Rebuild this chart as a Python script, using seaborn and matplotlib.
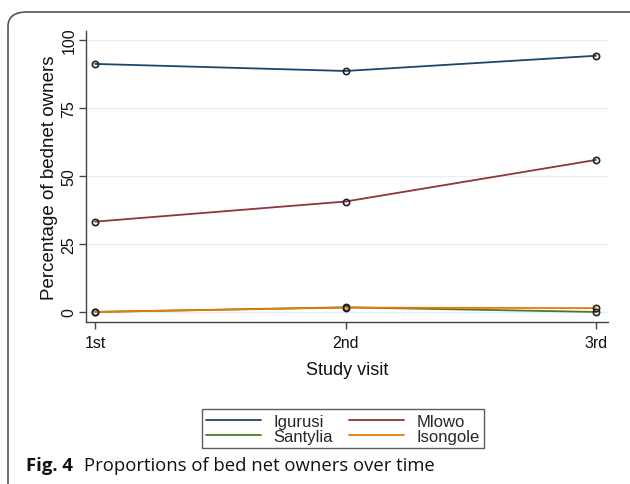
import matplotlib
matplotlib.use("Agg")
import matplotlib.pyplot as plt
from matplotlib.lines import Line2D
from matplotlib.patches import FancyBboxPatch
import seaborn as sns
import pandas as pd

# Study visits and percentage of bed net owners per site
visits = ["1st", "2nd", "3rd"]
igurusi = [91.2, 88.6, 94.2]
mlowo = [33.2, 40.6, 55.9]
santylia = [0.0, 1.7, 0.0]
isongole = [0.0, 1.6, 1.4]

sites = ["Igurusi", "Mlowo", "Santylia", "Isongole"]
colors = ["#1a476f", "#90353b", "#55752f", "#e37e00"]
y_ticks = [0, 25, 50, 75, 100]

series = {"Igurusi": igurusi, "Mlowo": mlowo, "Santylia": santylia, "Isongole": isongole}
df = pd.DataFrame(
    [(v, s, val) for s in sites for v, val in zip(visits, series[s])],
    columns=["visit", "site", "pct"],
)

sns.set_theme(style="white")
plt.rcParams["font.family"] = ["Liberation Sans", "DejaVu Sans"]

fig = plt.figure(figsize=(6.3, 4.85), dpi=100)
ax = fig.add_axes([0.1365, 0.334, 0.8286, 0.600])

sns.lineplot(
    data=df, x="visit", y="pct", hue="site", hue_order=sites,
    palette=dict(zip(sites, colors)), marker="o", markersize=4.5,
    markerfacecolor="none", markeredgecolor="#222222", markeredgewidth=1.2,
    linewidth=1.3, legend=False, ax=ax, sort=False,
)

ax.set_xlim(-0.036, 2.048)
ax.set_ylim(-3.7, 103.3)
ax.set_yticks(y_ticks)
ax.set_yticklabels([str(t) for t in y_ticks], rotation=90, va="center")
ax.yaxis.grid(True, color="#e8eef2", linewidth=1.0)
ax.xaxis.grid(False)
ax.set_axisbelow(True)

for side in ["top", "right"]:
    ax.spines[side].set_visible(False)
for side in ["left", "bottom"]:
    ax.spines[side].set_color("#444444")
    ax.spines[side].set_linewidth(1.0)

ax.tick_params(axis="both", which="major", direction="out", length=5, width=1.0,
               color="#444444", labelsize=11.5, labelcolor="#111111", pad=4,
               left=True, bottom=True)
ax.tick_params(axis="y", pad=2)
ax.set_xlabel("Study visit", fontsize=13, color="#111111", labelpad=8)
ax.set_ylabel("Percentage of bednet owners", fontsize=13.5, color="#111111", labelpad=2)

# Legend laid out row-wise: Igurusi, Mlowo / Santylia, Isongole
order = [0, 2, 1, 3]
handles = [Line2D([0], [0], color=colors[i], linewidth=1.3) for i in order]
labels = [sites[i] for i in order]
leg = fig.legend(
    handles, labels, ncol=2, loc="center", bbox_to_anchor=(0.5444, 0.1144),
    frameon=True, fancybox=False, edgecolor="#333333", fontsize=12,
    handlelength=3.3, columnspacing=1.0, handletextpad=0.75, borderpad=0.25,
    labelspacing=0.0,
)
leg.get_frame().set_linewidth(1.0)

# Outer panel border with rounded corner
frame = FancyBboxPatch(
    (8 / 630, -0.2), 1.2, 1 - 13 / 485 + 0.2,
    boxstyle="round,pad=0,rounding_size=0.03",
    transform=fig.transFigure, fill=False, edgecolor="#555555",
    linewidth=1.2, clip_on=False,
)
fig.patches.append(frame)

cap_y = 1 - 466 / 485
fig.text(26 / 630, cap_y, "Fig. 4", fontsize=13.3, fontweight="bold",
         family=["Open Sans", "DejaVu Sans"], va="center", ha="left", color="#111111")
fig.text(84 / 630, cap_y, "Proportions of bed net owners over time", fontsize=13.3,
         family=["Open Sans", "DejaVu Sans"], va="center", ha="left", color="#111111")

fig.savefig("out.png", dpi=100, facecolor="white")
